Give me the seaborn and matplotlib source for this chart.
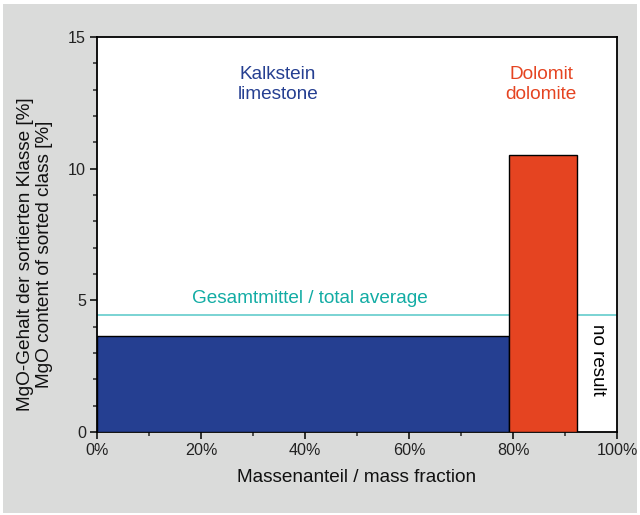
import matplotlib
matplotlib.use("Agg")
import matplotlib.pyplot as plt
import seaborn as sns
from matplotlib.patches import Rectangle
from matplotlib.ticker import MultipleLocator, FuncFormatter

# data
classes = ["Kalkstein\nlimestone", "Dolomit\ndolomite"]
class_start = [0.0, 79.3]      # % mass fraction where class starts
class_width = [79.3, 13.0]     # % mass fraction of class
mgo_content = [3.63, 10.5]     # MgO content [%]
total_average = 4.45
bar_colors = ["#253f91", "#e54421"]

sns.set_theme(style="ticks")
plt.rcParams['font.family'] = ['Liberation Sans', 'DejaVu Sans']

fig = plt.figure(figsize=(6.4, 5.15), dpi=100)
fig.patch.set_facecolor("white")
fig.patches.append(Rectangle((0.005, 0.004), 0.99, 0.988, transform=fig.transFigure,
                             facecolor="#dadbda", edgecolor="none", zorder=-10))
ax = fig.add_axes([0.1516, 0.1612, 0.8125, 0.767])
ax.set_facecolor("white")

ax.bar(class_start, mgo_content, width=class_width, align="edge",
       color=bar_colors, edgecolor="black", linewidth=1.0, zorder=3)
ax.axhline(total_average, color="#6fd0d0", linewidth=1.3, zorder=2)

ax.set_xlim(0, 100)
ax.set_ylim(0, 15)
ax.xaxis.set_major_locator(MultipleLocator(20))
ax.xaxis.set_minor_locator(MultipleLocator(10))
ax.yaxis.set_major_locator(MultipleLocator(5))
ax.yaxis.set_minor_locator(MultipleLocator(1))
ax.xaxis.set_major_formatter(FuncFormatter(lambda v, p: f"{v:.0f}%"))
ax.tick_params(which="major", direction="out", length=5, width=1.1, labelsize=11.6,
               colors="black", labelcolor="#222222", pad=3)
ax.tick_params(which="minor", direction="out", length=3, width=1.1)
for s in ax.spines.values():
    s.set_visible(True)
    s.set_color("black")
    s.set_linewidth(1.3)

ax.set_xlabel("Massenanteil / mass fraction", fontsize=13.7, color="#111111", labelpad=8)
ax.set_ylabel("MgO-Gehalt der sortierten Klasse [%]\nMgO content of sorted class [%]",
              fontsize=13.7, color="#111111", linespacing=1.15)
ax.yaxis.set_label_coords(-0.085, 0.45)

ax.text(34.8, 13.2, classes[0], color="#253f91", fontsize=13.7, ha="center", va="center",
        linespacing=1.25)
ax.text(85.4, 13.2, classes[1], color="#e54421", fontsize=13.7, ha="center", va="center",
        linespacing=1.25)
ax.text(41.0, 5.05, "Gesamtmittel / total average", color="#12aca4", fontsize=13.7,
        ha="center", va="center")
ax.text(96.2, 2.73, "no result", color="black", fontsize=13.5, ha="center", va="center",
        rotation=-90)

fig.savefig("out.png", dpi=100, facecolor=fig.get_facecolor())
